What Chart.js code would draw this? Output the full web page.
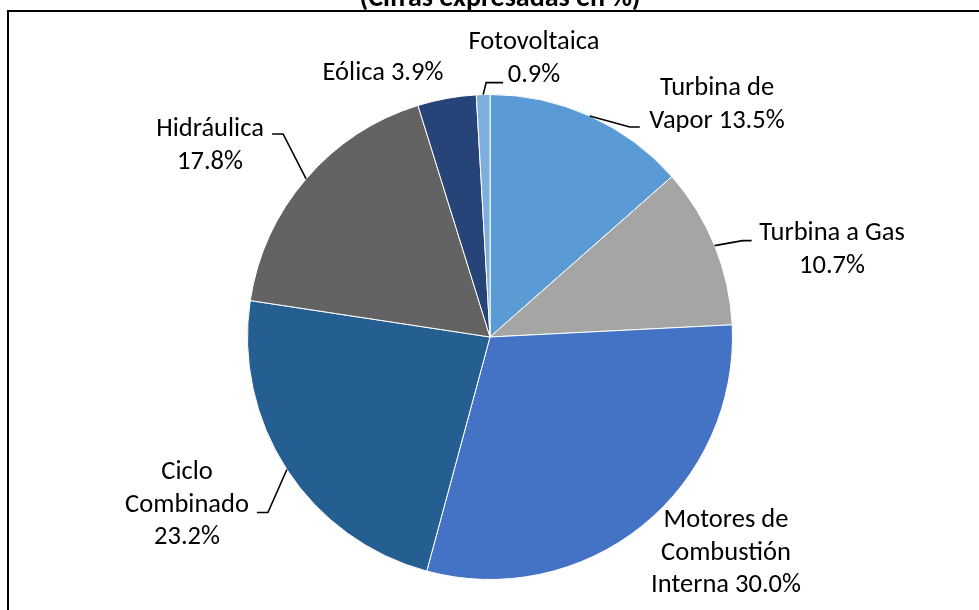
<!DOCTYPE html>
<html>
<head>
<meta charset="utf-8">
<script src="https://cdn.jsdelivr.net/npm/chart.js@4.4.1/dist/chart.umd.min.js"></script>
<style>
  html, body { margin: 0; padding: 0; background: #ffffff; }
  #wrap { width: 979px; height: 610px; position: relative; }
</style>
</head>
<body>
<div id="wrap"><canvas id="c" width="979" height="610"></canvas></div>
<script>
// ---- Data ----
const title = "(Cifras expresadas en %)";
const categories = ["Turbina de Vapor", "Turbina a Gas", "Motores de Combustión Interna", "Ciclo Combinado", "Hidráulica", "Eólica", "Fotovoltaica"];
const values = [13.5, 10.7, 30.0, 23.2, 17.8, 3.9, 0.9];
const labelLines = [
  ["Turbina de", "Vapor 13.5%"],
  ["Turbina a Gas", "10.7%"],
  ["Motores de", "Combustión", "Interna 30.0%"],
  ["Ciclo", "Combinado", "23.2%"],
  ["Hidráulica", "17.8%"],
  ["Eólica 3.9%"],
  ["Fotovoltaica", "0.9%"]
];

// ---- Styles / layout ----
const colors = ["#5B9BD5", "#A5A5A5", "#4472C4", "#255E91", "#636363", "#264478", "#7CAFDD"];
// text block centre offset from pie centre, and leader: elbow offset from edge point + horizontal run
const labelLayout = [
  { dx: 227, dy: -232, leader: { ex: 40, ey: 11, run: 10 } },
  { dx: 342, dy: -87,  leader: { ex: 28, ey: -5, run: 9 } },
  { dx: 236, dy: 216,  leader: null },
  { dx: -303, dy: 168, leader: { ex: -19, ey: 43, run: -11 } },
  { dx: -280, dy: -191, leader: { ex: -23, ey: -45, run: -11 } },
  { dx: -107, dy: -264, leader: null },
  { dx: 44, dy: -278,  leader: { ex: 3, ey: -12, run: 17 } }
];
const FONT_FAMILY = "Carlito, Calibri, Lato, 'Open Sans', sans-serif";
const LABEL_SIZE = 26.5;
const LINE_H = 32.5;

const framePlugin = {
  id: 'frame',
  beforeDraw(chart) {
    const ctx = chart.ctx;
    ctx.save();
    ctx.fillStyle = '#ffffff';
    ctx.fillRect(0, 0, chart.width, chart.height);
    ctx.strokeStyle = '#000000';
    ctx.lineWidth = 2;
    ctx.beginPath();
    ctx.moveTo(chart.width + 5, 11);
    ctx.lineTo(8, 11);
    ctx.lineTo(8, chart.height + 5);
    ctx.stroke();
    ctx.fillStyle = '#000000';
    ctx.font = "bold 28px " + FONT_FAMILY;
    ctx.textAlign = 'center';
    ctx.textBaseline = 'alphabetic';
    ctx.fillText(title, 500, 6);
    ctx.restore();
  }
};

const labelPlugin = {
  id: 'pieLabels',
  afterDatasetsDraw(chart) {
    const ctx = chart.ctx;
    const meta = chart.getDatasetMeta(0);
    ctx.save();
    meta.data.forEach((arc, i) => {
      const p = arc.getProps(['x', 'y', 'startAngle', 'endAngle', 'outerRadius'], true);
      const mid = (p.startAngle + p.endAngle) / 2;
      const ex = p.x + p.outerRadius * Math.cos(mid);
      const ey = p.y + p.outerRadius * Math.sin(mid);
      const lay = labelLayout[i];
      if (lay.leader) {
        const bx = ex + lay.leader.ex, by = ey + lay.leader.ey;
        ctx.strokeStyle = '#000000';
        ctx.lineWidth = 1.6;
        ctx.beginPath();
        ctx.moveTo(ex, ey);
        ctx.lineTo(bx, by);
        ctx.lineTo(bx + lay.leader.run, by);
        ctx.stroke();
      }
      const lines = labelLines[i];
      const cx = p.x + lay.dx, cy = p.y + lay.dy;
      ctx.fillStyle = '#000000';
      ctx.font = LABEL_SIZE + "px " + FONT_FAMILY;
      ctx.textAlign = 'center';
      ctx.textBaseline = 'middle';
      lines.forEach((t, k) => {
        const y = cy + (k - (lines.length - 1) / 2) * LINE_H;
        ctx.fillText(t, cx, y);
      });
    });
    ctx.restore();
  }
};

new Chart(document.getElementById('c'), {
  type: 'pie',
  data: {
    labels: categories,
    datasets: [{
      data: values,
      backgroundColor: colors,
      borderColor: '#ffffff',
      borderWidth: 1
    }]
  },
  options: {
    responsive: false,
    animation: false,
    rotation: 0,
    layout: { padding: { left: 247, right: 246, top: 94, bottom: 30 } },
    plugins: {
      legend: { display: false },
      tooltip: { enabled: false },
      title: { display: false }
    }
  },
  plugins: [framePlugin, labelPlugin]
});
</script>
</body>
</html>
